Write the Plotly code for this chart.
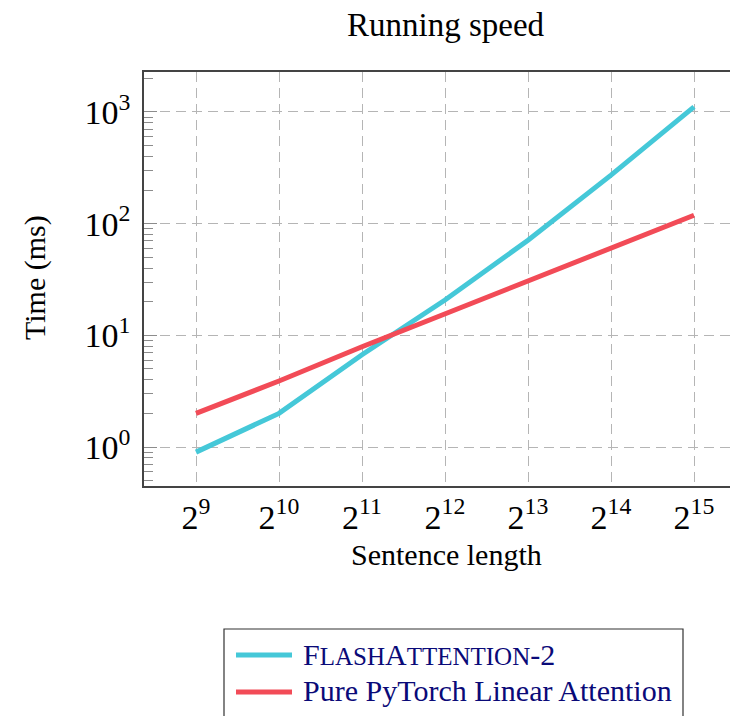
import plotly.graph_objects as go
import math

# Data
seq_exponents = [9, 10, 11, 12, 13, 14, 15]
seq_lengths = [2 ** e for e in seq_exponents]
flash_attn2_ms = [0.9, 2.0, 6.7, 20.7, 71, 272, 1110]
pytorch_linear_ms = [2.0, 3.9, 7.9, 15.5, 30.6, 60.5, 119]
x_tick_labels = [f"2<sup>{e}</sup>" for e in seq_exponents]
y_tick_vals = [1, 10, 100, 1000]
y_tick_labels = ["10<sup>0</sup>", "10<sup>1</sup>", "10<sup>2</sup>", "10<sup>3</sup>"]
series_names = ["F<span style='font-size:25px'>LASH</span>A<span style='font-size:25px'>TTENTION</span>-2",
                "Pure PyTorch Linear Attention"]

SERIF = "Liberation Serif"
CYAN = "#45C8D8"
RED = "#F24B57"
GRID = "#B5B5B5"
AXIS = "#444444"
TICK = "#8C8C8C"
LEGEND_TEXT = "#0A0A78"

# page body has an 8px margin; plot area in page pixels: left 144, top 72, right 746, bottom 486
PL, PT, PR, PB = 144, 72, 746, 486
def px(x):
    return (x - PL) / (PR - PL)
def py(y):
    return (PB - y) / (PB - PT)

fig = go.Figure()
colors = [CYAN, RED]
for name, vals, col in zip(series_names, [flash_attn2_ms, pytorch_linear_ms], colors):
    fig.add_trace(go.Scatter(x=seq_lengths, y=vals, mode="lines", name=name,
                             line=dict(color=col, width=5), showlegend=False))

x_lo = (9 - 52 / 83) * math.log10(2)
x_hi = (15 + 52 / 83) * math.log10(2)

shapes = [
    # legend box
    dict(type="rect", xref="paper", yref="paper", x0=px(224), x1=px(683), y0=py(740), y1=py(629),
         line=dict(color="#333333", width=1.2), fillcolor="white", layer="above"),
    dict(type="line", xref="paper", yref="paper", x0=px(236), x1=px(292), y0=py(655), y1=py(655),
         line=dict(color=CYAN, width=5), layer="above"),
    dict(type="line", xref="paper", yref="paper", x0=px(236), x1=px(292), y0=py(692), y1=py(692),
         line=dict(color=RED, width=5), layer="above"),
]

annotations = [
    dict(text="Running speed", xref="paper", yref="paper", x=px(446), y=py(25),
         xanchor="center", yanchor="middle", showarrow=False, font=dict(family=SERIF, size=33)),
    dict(text="Sentence length", xref="paper", yref="paper", x=px(446), y=py(554),
         xanchor="center", yanchor="middle", showarrow=False, font=dict(family=SERIF, size=30)),
    dict(text="Time (ms)", xref="paper", yref="paper", x=px(35), y=py(278),
         xanchor="center", yanchor="middle", showarrow=False, textangle=-90,
         font=dict(family=SERIF, size=30)),
    dict(text=series_names[0], xref="paper", yref="paper", x=px(301), y=py(654),
         xanchor="left", yanchor="middle", showarrow=False,
         font=dict(family=SERIF, size=30, color=LEGEND_TEXT)),
    dict(text=series_names[1], xref="paper", yref="paper", x=px(301), y=py(690),
         xanchor="left", yanchor="middle", showarrow=False,
         font=dict(family=SERIF, size=30, color=LEGEND_TEXT)),
]

fig.update_layout(
    width=738, height=716,
    margin=dict(l=PL - 8, r=738 - (PR - 8), t=PT - 8, b=716 - (PB - 8), autoexpand=False),
    paper_bgcolor="white", plot_bgcolor="white",
    font=dict(family=SERIF, color="black"),
    showlegend=False,
    xaxis=dict(type="log", range=[x_lo, x_hi], tickvals=seq_lengths, ticktext=x_tick_labels,
               showgrid=True, gridcolor=GRID, griddash="10px,6px", gridwidth=1,
               showline=True, linecolor=AXIS, linewidth=1.5, mirror=True,
               ticks="", tickfont=dict(family=SERIF, size=34), ticklabelstandoff=0, zeroline=False),
    yaxis=dict(type="log", range=[-0.349, 3.358], tickvals=y_tick_vals, ticktext=y_tick_labels,
               showgrid=True, gridcolor=GRID, griddash="10px,6px", gridwidth=1,
               showline=True, linecolor=AXIS, linewidth=1.5, mirror="allticks",
               ticks="inside", ticklen=13, tickcolor=TICK, tickwidth=1,
               minor=dict(dtick="D1", ticks="inside", ticklen=9, tickwidth=1,
                          tickcolor=TICK, showgrid=False),
               tickfont=dict(family=SERIF, size=34), ticklabelstandoff=5, zeroline=False),
    shapes=shapes,
    annotations=annotations,
)

fig.write_html("out.html")
